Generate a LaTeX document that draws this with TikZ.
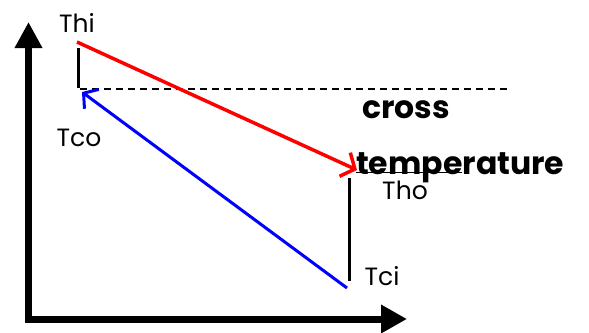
\documentclass[tikz,border=0pt]{standalone}
\usepackage{fontspec}
\setmainfont{Poppins}
\usetikzlibrary{arrows.meta}
\begin{document}
\begin{tikzpicture}[x=1pt,y=-1pt,
  axis/.style={line width=7pt,line join=miter},
  lbl/.style={font=\fontsize{25}{25}\selectfont,inner sep=0pt},
  bigl/.style={font=\fontsize{31.5}{31.5}\selectfont\bfseries,inner sep=0pt,anchor=base west},
  seg/.style={line width=3pt,black}]
\useasboundingbox (0,0) rectangle (589,332);
% axes
\coordinate (ytip) at (28.5,22);
\coordinate (origin) at (28.5,319);
\coordinate (xtip) at (407,319);
\draw[axis,{Triangle[width=26pt,length=26pt]}-{Triangle[width=27pt,length=26pt]}] (ytip) -- (origin) -- (xtip);
% key points
\coordinate (hi) at (77,42);
\coordinate (ho) at (357,170);
\coordinate (ci) at (347,288);
\coordinate (co) at (82,92);
\coordinate (s1a) at (78,48);
\coordinate (s1b) at (78,88);
\coordinate (s2a) at (349,178);
\coordinate (s2b) at (349,281);
\coordinate (d1) at (80,89);
\coordinate (d2) at (508,89);
\coordinate (u1) at (356,172.5);
\coordinate (u2) at (462,172.5);
% lines
\draw[seg] (s1a) -- (s1b);
\draw[seg] (s2a) -- (s2b);
\draw[line width=1.4pt,dash pattern=on 7pt off 5pt] (d1) -- (d2);
\draw[line width=1pt] (u1) -- (u2);
\draw[red,line width=3.5pt,-{Straight Barb[length=11pt,width=26pt]}] (hi) -- (ho);
\draw[blue,line width=3pt,-{Straight Barb[length=10pt,width=24pt]}] (ci) -- (co);
% labels
\node[lbl] (thi) at (77,23) {Thi};
\node[lbl] (tco) at (79,138) {Tco};
\node[lbl] (tho) at (405,190) {Tho};
\node[lbl] (tci) at (382,276) {Tci};
\node[bigl] (cross) at (362,118) {cross};
\node[bigl] (temp) at (356,174) {temperature};
\end{tikzpicture}
\end{document}
